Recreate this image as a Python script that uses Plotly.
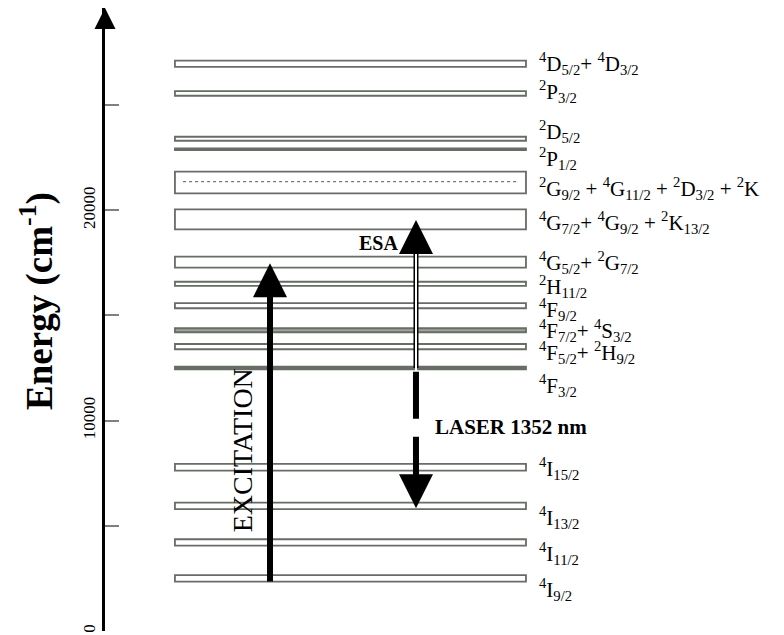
import plotly.graph_objects as go

# ---------------- data ----------------
level_names = ["4I9/2", "4I11/2", "4I13/2", "4I15/2", "4F3/2", "4F5/2+2H9/2",
               "4F7/2+4S3/2", "4F9/2", "2H11/2", "4G5/2+2G7/2",
               "4G7/2+4G9/2+2K13/2", "2G9/2+4G11/2+2D3/2+2K", "2P1/2",
               "2D5/2", "2P3/2", "4D5/2+4D3/2"]
level_lower = [2350, 4060, 5790, 7620, 12440, 13390, 14200, 15340, 16400,
               17270, 19090, 20800, 22860, 23300, 25440, 26810]
level_upper = [2660, 4360, 6100, 7940, 12560, 13640, 14390, 15580, 16600,
               17790, 20040, 21830, 22940, 23490, 25660, 27110]
level_labels = [
    "<sup>4</sup>I<sub>9/2</sub>",
    "<sup>4</sup>I<sub>11/2</sub>",
    "<sup>4</sup>I<sub>13/2</sub>",
    "<sup>4</sup>I<sub>15/2</sub>",
    "<sup>4</sup>F<sub>3/2</sub>",
    "<sup>4</sup>F<sub>5/2</sub>+ <sup>2</sup>H<sub>9/2</sub>",
    "<sup>4</sup>F<sub>7/2</sub>+ <sup>4</sup>S<sub>3/2</sub>",
    "<sup>4</sup>F<sub>9/2</sub>",
    "<sup>2</sup>H<sub>11/2</sub>",
    "<sup>4</sup>G<sub>5/2</sub>+ <sup>2</sup>G<sub>7/2</sub>",
    "<sup>4</sup>G<sub>7/2</sub>+ <sup>4</sup>G<sub>9/2</sub> + <sup>2</sup>K<sub>13/2</sub>",
    "<sup>2</sup>G<sub>9/2</sub> + <sup>4</sup>G<sub>11/2</sub> + <sup>2</sup>D<sub>3/2</sub> + <sup>2</sup>K",
    "<sup>2</sup>P<sub>1/2</sub>",
    "<sup>2</sup>D<sub>5/2</sub>",
    "<sup>2</sup>P<sub>3/2</sub>",
    "<sup>4</sup>D<sub>5/2</sub>+ <sup>4</sup>D<sub>3/2</sub>",
]
label_energy = [1949, 3707, 5418, 7747, 11692, 13260, 14259, 15304, 16350,
                17538, 19439, 21055, 22481, 23764, 25618, 26949]
inner_dotted_energy = 21355          # dotted line inside the 2G9/2 manifold

exc_start, exc_tip = 2350, 17480     # excitation arrow
esa_start, esa_tip = 12500, 19530    # excited state absorption arrow
laser_start, laser_tip = 12320, 5830 # laser 1352 nm arrow

tick_values = [0, 5000, 10000, 15000, 20000, 25000]
tick_labels = ["0", "", "10000", "", "20000", ""]
y_top = 29610

# ---------------- styles / layout constants ----------------
SERIF = "Liberation Serif"
LEVEL_X0, LEVEL_X1 = 10.3, 62.0
LABEL_X = 63.6
EXC_X, ESA_X = 24.3, 45.8
solid_levels = {"4F3/2", "2P1/2"}
shaded_levels = {"4F7/2+4S3/2"}
EDGE = "#666d64"

PX_PER_E = 623 / y_top
head_len = 32 / PX_PER_E

fig = go.Figure()

shapes = []
for name, lo, hi in zip(level_names, level_lower, level_upper):
    if name in solid_levels:
        fill = EDGE
    elif name in shaded_levels:
        fill = "#9ea39c"
    else:
        fill = "white"
    shapes.append(dict(type="rect", xref="x", yref="y", x0=LEVEL_X0, x1=LEVEL_X1,
                       y0=lo, y1=hi, line=dict(color=EDGE, width=1.8),
                       fillcolor=fill, layer="below"))
shapes.append(dict(type="line", xref="x", yref="y", x0=LEVEL_X0 + 1.2, x1=LEVEL_X1 - 1.3,
                   y0=inner_dotted_energy, y1=inner_dotted_energy,
                   line=dict(color="#555555", width=1, dash="dot"), layer="below"))

# excitation shaft
fig.add_trace(go.Scatter(x=[EXC_X, EXC_X], y=[exc_start, exc_tip - head_len * 0.5],
                         mode="lines", line=dict(color="black", width=6),
                         hoverinfo="skip", showlegend=False))
# ESA double line
fig.add_trace(go.Scatter(x=[ESA_X, ESA_X], y=[esa_start, esa_tip - head_len * 0.8],
                         mode="lines", line=dict(color="black", width=5),
                         hoverinfo="skip", showlegend=False))
fig.add_trace(go.Scatter(x=[ESA_X, ESA_X], y=[esa_start - 150, esa_tip - head_len * 0.75],
                         mode="lines", line=dict(color="white", width=2),
                         hoverinfo="skip", showlegend=False))
# laser dashed thick shaft
fig.add_trace(go.Scatter(x=[ESA_X, ESA_X], y=[laser_start, laser_tip + head_len * 0.9],
                         mode="lines", line=dict(color="black", width=6, dash="47px,18px"),
                         hoverinfo="skip", showlegend=False))
# arrow heads
fig.add_trace(go.Scatter(x=[EXC_X, ESA_X], y=[exc_tip, esa_tip], mode="markers",
                         marker=dict(symbol="arrow-up", size=34, color="black",
                                     line=dict(width=0)),
                         hoverinfo="skip", showlegend=False))
fig.add_trace(go.Scatter(x=[ESA_X], y=[laser_tip], mode="markers",
                         marker=dict(symbol="arrow-down", size=34, color="black",
                                     line=dict(width=0)),
                         hoverinfo="skip", showlegend=False))
# axis arrow head
fig.add_trace(go.Scatter(x=[0], y=[y_top], mode="markers", cliponaxis=False,
                         marker=dict(symbol="arrow-up", size=21, color="black",
                                     line=dict(width=0)),
                         hoverinfo="skip", showlegend=False))

annotations = []
for txt, e in zip(level_labels, label_energy):
    annotations.append(dict(x=LABEL_X, y=e, xref="x", yref="y", text=txt,
                            showarrow=False, xanchor="left", yanchor="middle",
                            font=dict(family=SERIF, size=21, color="black")))
annotations.append(dict(x=20.3, y=8579, xref="x", yref="y", text="EXCITATION",
                        textangle=-90, showarrow=False, xanchor="center", yanchor="middle",
                        font=dict(family=SERIF, size=28, color="black")))
annotations.append(dict(x=43.4, y=18441, xref="x", yref="y", text="<b>ESA</b>",
                        showarrow=False, xanchor="right", yanchor="middle",
                        font=dict(family=SERIF, size=20, color="black")))
annotations.append(dict(x=48.3, y=9710, xref="x", yref="y", text="<b>LASER 1352 nm</b>",
                        showarrow=False, xanchor="left", yanchor="middle",
                        font=dict(family=SERIF, size=21, color="black")))
annotations.append(dict(x=-0.1, y=0.53, xref="paper", yref="paper",
                        text="<b>Energy (cm<sup>-1</sup>)</b>", textangle=-90,
                        showarrow=False, xanchor="center", yanchor="middle",
                        font=dict(family=SERIF, size=37, color="black")))

fig.update_layout(
    width=784, height=635,
    margin=dict(l=105, r=0, t=8, b=4),
    paper_bgcolor="white", plot_bgcolor="white",
    shapes=shapes, annotations=annotations,
    xaxis=dict(range=[0, 100], visible=False, fixedrange=True),
    yaxis=dict(range=[0, y_top], showgrid=False, zeroline=False,
               showline=True, linecolor="black", linewidth=3,
               ticks="inside", ticklen=14, tickwidth=1.5, tickcolor="#808080",
               tickvals=tick_values, ticktext=tick_labels, tickangle=-90,
               ticklabelstandoff=0,
               tickfont=dict(family=SERIF, size=17, color="black"),
               fixedrange=True),
    showlegend=False,
)

fig.write_html("out.html")
